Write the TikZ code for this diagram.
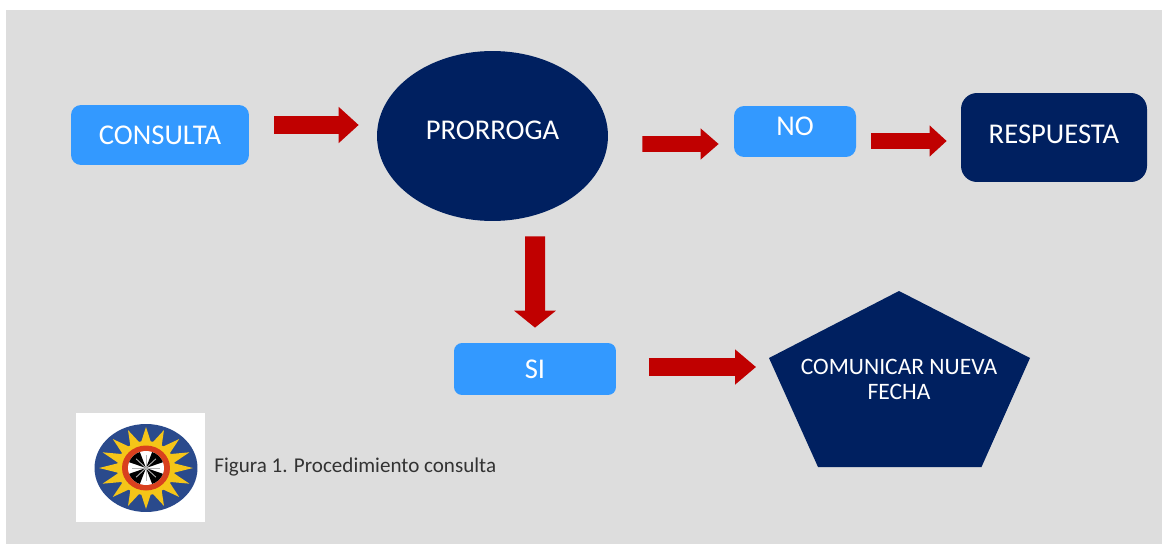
\documentclass[tikz,border=0pt]{standalone}
\usepackage{fontspec}
\setmainfont{Carlito}
\usetikzlibrary{arrows.meta,shapes.geometric}
\definecolor{fondo}{HTML}{DDDDDD}
\definecolor{azulclaro}{HTML}{3399FF}
\definecolor{azuloscuro}{HTML}{002060}
\definecolor{rojo}{HTML}{C00000}
\definecolor{azulsol}{HTML}{2A4A8C}
\definecolor{amarillo}{HTML}{F5C518}
\definecolor{anillo}{HTML}{D9401E}
\tikzset{
  lightbox/.style={rectangle,rounded corners=0.2cm,fill=azulclaro,text=white,inner sep=0pt},
  darkbox/.style={rectangle,rounded corners=0.32cm,fill=azuloscuro,text=white,inner sep=0pt},
  bigarrow/.style n args={3}{draw=rojo,line width=#1,-{Triangle[length=#2,width=#3]}},
  bigfont/.style={font=\fontsize{16.3}{18}\selectfont}
}
\begin{document}
\begin{tikzpicture}[x=0.02cm,y=-0.02cm]
\useasboundingbox (0,0) rectangle (1162,544);
\fill[fondo] (6,10) rectangle (1162,544);

\node[lightbox,bigfont,minimum width=3.56cm,minimum height=1.2cm] (consulta) at (160,135) {CONSULTA};
\node[ellipse,fill=azuloscuro,text=white,bigfont,inner sep=0pt,minimum width=4.62cm,minimum height=3.4cm] (prorroga) at (492.5,136) {\raisebox{0.24cm}{PRORROGA}};
\node[lightbox,bigfont,minimum width=2.44cm,minimum height=1.02cm] (no) at (795,131.5) {\raisebox{0.22cm}{NO}};
\node[darkbox,bigfont,minimum width=3.72cm,minimum height=1.78cm] (respuesta) at (1054,137.5) {\raisebox{0.14cm}{RESPUESTA}};
\node[lightbox,bigfont,rounded corners=0.16cm,minimum width=3.24cm,minimum height=1.04cm] (si) at (535,369) {SI};

% pentagono
\coordinate (pentleft) at (769,358);
\fill[azuloscuro] (899,291) -- (1030,358) -- (981.5,467) -- (818,467) -- (pentleft) -- cycle;
\node[text=white,align=center,font=\fontsize{13.4}{14.2}\selectfont] (comunicar) at (899,379.5) {COMUNICAR NUEVA\\FECHA};

\draw[bigarrow={0.36cm}{0.4cm}{0.7cm}] ([shift={(25,-10)}]consulta.east) -- ([shift={(-18,-11)}]prorroga.west);
\draw[bigarrow={0.32cm}{0.36cm}{0.6cm}] ([shift={(34,8)}]prorroga.east) -- ([shift={(-15,12.5)}]no.west);
\draw[bigarrow={0.32cm}{0.34cm}{0.6cm}] ([shift={(15,9.5)}]no.east) -- ([shift={(-14,3.5)}]respuesta.west);
\draw[bigarrow={0.4cm}{0.34cm}{0.82cm}] ([shift={(42.5,15)}]prorroga.south) -- ([shift={(0,-15)}]si.north);
\draw[bigarrow={0.36cm}{0.42cm}{0.68cm}] ([shift={(32.5,-2)}]si.east) -- ([shift={(-13,9)}]pentleft);

% escudo
\fill[white] (76,413) rectangle (205,522);
\fill[azulsol] (146,468) ellipse (1.03cm and 0.88cm);
\foreach \a in {0,22.5,...,337.5}{
  \fill[amarillo] ({146+22*cos(\a-19)},{468+20*sin(\a-19)}) -- ({146+47*cos(\a)},{468+41*sin(\a)}) -- ({146+22*cos(\a+19)},{468+20*sin(\a+19)}) -- cycle;
}
\fill[amarillo] (146,468) ellipse (0.58cm and 0.54cm);
\fill[anillo] (146,468) ellipse (0.48cm and 0.45cm);
\fill[white] (146,468) ellipse (0.36cm and 0.34cm);
\foreach \a in {20,110,200,290}{
  \fill[black] (146,468) -- ({146+18*cos(\a)},{468+17*sin(\a)}) arc[start angle=-\a,delta angle=-50,x radius=0.36cm,y radius=0.34cm] -- cycle;
}
\foreach \a in {0,45,...,315}{
  \draw[gray!60,line width=0.5pt] (146,468) -- ({146+14*cos(\a)},{468+13*sin(\a)});
}

\node[text=black!80,font=\fontsize{12}{14}\selectfont,anchor=west,inner sep=0pt] (figura) at (214,466.5) {Figura 1. Procedimiento consulta};
\end{tikzpicture}
\end{document}
